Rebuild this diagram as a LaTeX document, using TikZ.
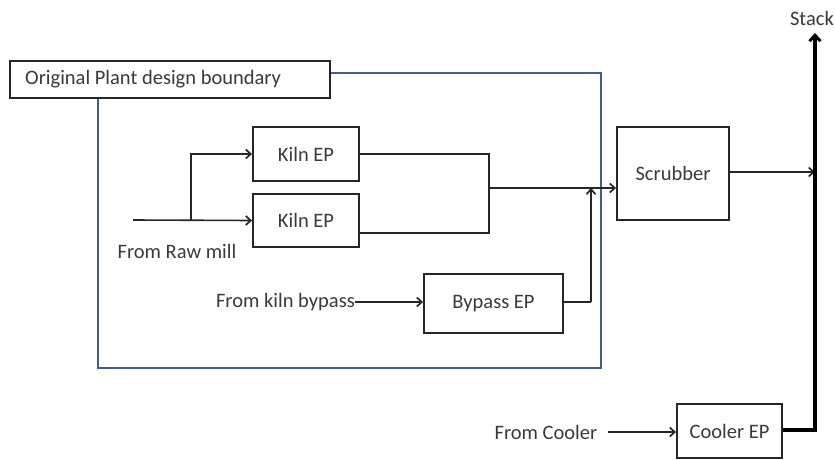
\documentclass[tikz,border=0pt]{standalone}
\usepackage{fontspec}
\setmainfont{Carlito}
\usetikzlibrary{arrows.meta}
\definecolor{bnd}{HTML}{3F5F92}
\definecolor{txt}{HTML}{3A3A3A}
\tikzset{
  blk/.style={draw=black!85, line width=1.9pt, fill=white, inner sep=0pt, text=txt, font=\fontsize{20.5}{24}\selectfont},
  lbl/.style={inner sep=0pt, text=txt, font=\fontsize{20.5}{24}\selectfont},
  flow/.style={draw=black!85, line width=1.6pt},
  arr/.style={flow, -{Straight Barb[length=5pt,width=9pt,line width=1.7pt]}},
  stk/.style={draw=black, line width=3.6pt},
}
\begin{document}
\begin{tikzpicture}[x=1pt,y=-1pt]
\useasboundingbox (0,0) rectangle (835,460);
% boundary
\draw[bnd, line width=2.8pt] (98,73) rectangle (601,368);
\node[blk, line width=2pt, minimum width=320pt, minimum height=37pt, anchor=west] (label) at (9,79.5) {};
\node[lbl, anchor=west] (labeltxt) at ([xshift=16pt]label.west) {Original Plant design boundary};
% boxes
\node[blk, minimum width=106pt, minimum height=54pt] (kiln1) at (306,154) {Kiln EP};
\node[blk, minimum width=106pt, minimum height=53pt] (kiln2) at (306,220.5) {Kiln EP};
\node[blk, minimum width=139pt, minimum height=59pt] (bypass) at (493.5,303.5) {\raisebox{4pt}{Bypass EP}};
\node[blk, minimum width=112pt, minimum height=93pt] (scrub) at (673,173.5) {Scrubber};
\node[blk, minimum width=105pt, minimum height=54pt] (cooler) at (729.5,431) {Cooler EP};
% texts
\node[lbl] (raw) at (177,251) {From Raw mill};
\node[lbl, anchor=east] (kbp) at (355,302) {From kiln bypass};
\node[lbl] (fcool) at (546,432) {From Cooler};
\node[lbl] (stack) at (812,18) {Stack};
% coordinates
\coordinate (rawstart) at (133,220);
\coordinate (branch) at (191,220);
\coordinate (k1out) at (489,154);
\coordinate (k2out) at (489,233);
\coordinate (join) at (489,188);
\coordinate (bpup) at (591,302);
\coordinate (stackline) at (815,172);
\coordinate (cool) at (815,430);
\coordinate (stacktop) at (815,33);
% flows
\draw[arr] (rawstart) -- (kiln2.west);
\draw[arr] (branch) |- (kiln1.west);
\draw[flow] (kiln1.east) -- (k1out) -- (k2out) -- (kiln2.east |- k2out);
\draw[arr] (join) -- (scrub.west |- join);
\draw[flow] (bypass.east |- bpup) -- (bpup);
\draw[arr] (bpup) -- (bpup |- join);
\draw[arr] (kbp.east) -- (bypass.west |- kbp.east);
\draw[arr] (fcool.east) ++(10,0) coordinate (fc) (fc) -- (cooler.west |- fc);
\draw[arr] (scrub.east |- stackline) -- (stackline);
\draw[stk, -{Straight Barb[length=6pt,width=11pt,line width=3pt]}] (cooler.east |- cool) -- (cool) -- (stacktop);
\end{tikzpicture}
\end{document}
